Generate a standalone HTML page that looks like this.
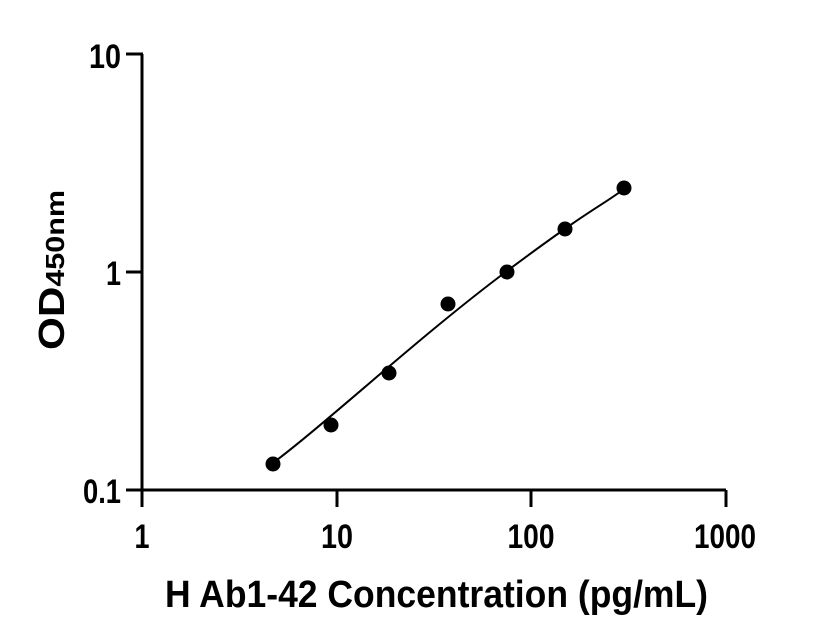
<!DOCTYPE html>
<html><head><style>body{margin:0;background:#fff}svg{display:block}text{font-family:"Liberation Sans",sans-serif;font-weight:bold;fill:#000}</style></head>
<body>
<svg width="816" height="640" viewBox="0 0 816 640">
<g stroke="#000" stroke-width="3" fill="none">
<line x1="142" y1="54" x2="142" y2="507"/>
<line x1="126" y1="54" x2="143" y2="54"/>
<line x1="126" y1="272" x2="143" y2="272"/>
<line x1="126" y1="490" x2="726" y2="490"/>
<line x1="337" y1="490" x2="337" y2="507"/>
<line x1="531" y1="490" x2="531" y2="507"/>
<line x1="726" y1="490" x2="726" y2="507"/>
</g>
<path d="M273,463 C330,420 420,336 507,271 S600,207 624,189" stroke="#000" stroke-width="2" fill="none"/>
<g fill="#000">
<circle cx="273" cy="464" r="7.5"/><circle cx="331" cy="425" r="7.5"/><circle cx="389" cy="373" r="7.5"/>
<circle cx="448" cy="304" r="7.5"/><circle cx="507" cy="272" r="7.5"/><circle cx="565" cy="229" r="7.5"/><circle cx="624" cy="188" r="7.5"/>
</g>
<g font-size="34" text-anchor="end">
<text x="121" y="68" textLength="32" lengthAdjust="spacingAndGlyphs">10</text>
<text x="121" y="285" textLength="15" lengthAdjust="spacingAndGlyphs">1</text>
<text x="121" y="503" textLength="38" lengthAdjust="spacingAndGlyphs">0.1</text>
</g>
<g font-size="34" text-anchor="middle">
<text x="142" y="548" textLength="15" lengthAdjust="spacingAndGlyphs">1</text>
<text x="337" y="548" textLength="32" lengthAdjust="spacingAndGlyphs">10</text>
<text x="531" y="548" textLength="47" lengthAdjust="spacingAndGlyphs">100</text>
<text x="725" y="548" textLength="62" lengthAdjust="spacingAndGlyphs">1000</text>
</g>
<text x="165" y="607" font-size="38" textLength="543" lengthAdjust="spacingAndGlyphs">H Ab1-42 Concentration (pg/mL)</text>
<text transform="translate(64,350) rotate(-90)" font-size="36" textLength="160" lengthAdjust="spacingAndGlyphs"><tspan>OD</tspan><tspan font-size="26">450nm</tspan></text>
</svg>
</body></html>
